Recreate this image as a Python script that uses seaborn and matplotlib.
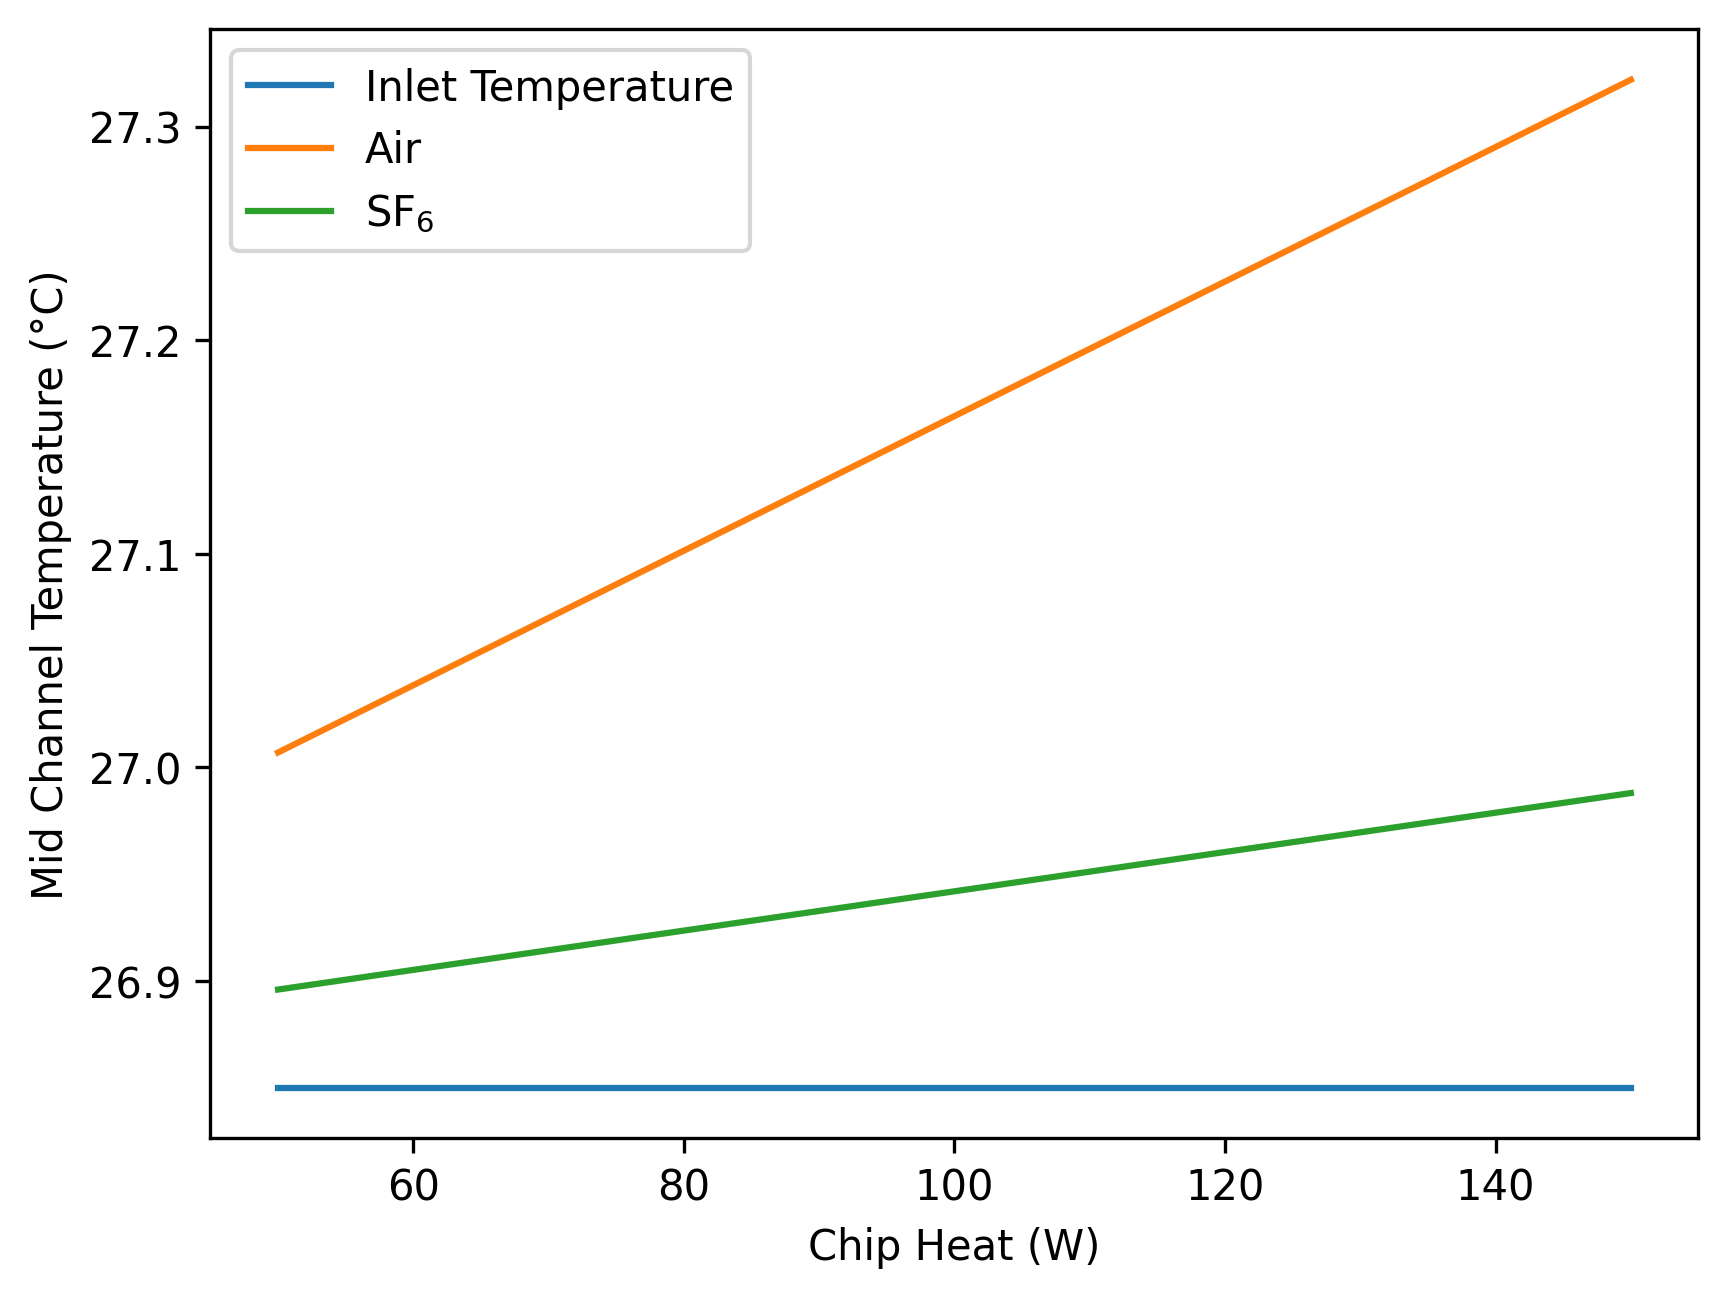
import pandas as pd
import matplotlib
matplotlib.use("Agg")
import matplotlib.pyplot as plt
import seaborn as sns

chip_heat = [50, 60, 70, 80, 90, 100, 110, 120, 130, 140, 150]
inlet_temp = [26.85] * len(chip_heat)
air_temp = [27.0070, 27.0385, 27.0700, 27.1015, 27.1330, 27.1645,
            27.1960, 27.2275, 27.2590, 27.2905, 27.3220]
sf6_temp = [26.8960, 26.9052, 26.9144, 26.9236, 26.9328, 26.9420,
            26.9512, 26.9604, 26.9696, 26.9788, 26.9880]

series_names = ["Inlet Temperature", "Air", "SF$_6$"]
frames = []
for name, vals in zip(series_names, [inlet_temp, air_temp, sf6_temp]):
    frames.append(pd.DataFrame({"Chip Heat (W)": chip_heat, "temp": vals, "series": name}))
df = pd.concat(frames, ignore_index=True)

fig, ax = plt.subplots(figsize=(6.4, 4.8))
sns.lineplot(data=df, x="Chip Heat (W)", y="temp", hue="series",
             palette=["#1f77b4", "#ff7f0e", "#2ca02c"], ax=ax, linewidth=1.5)
ax.set_xlabel("Chip Heat (W)")
ax.set_ylabel("Mid Channel Temperature (°C)")
ax.legend(loc="upper left", title=None)
fig.savefig("out.png", dpi=300, bbox_inches="tight")
